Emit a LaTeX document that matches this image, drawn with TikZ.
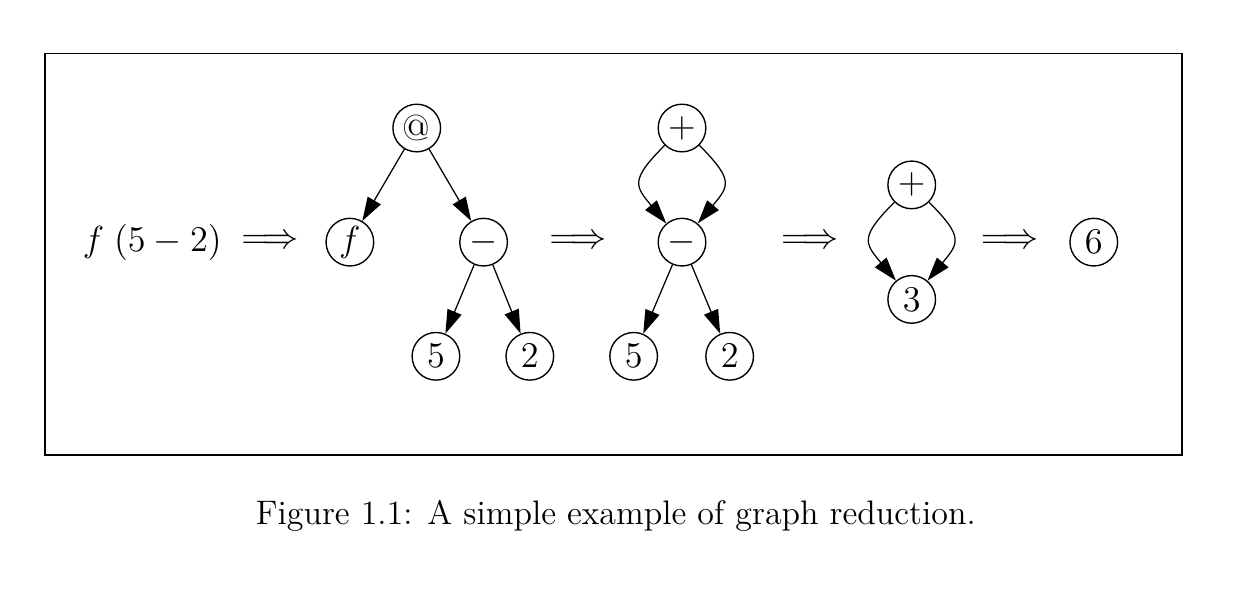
\documentclass[tikz,border=0pt]{standalone}
\usepackage{fix-cm}
\usepackage{amsmath}
\usetikzlibrary{arrows.meta}

\begin{document}
\begin{tikzpicture}[
        vertex/.style={draw, circle, line width=0.55pt, minimum size=0.67cm, inner sep=0pt, font=\fontsize{14.5}{17}\selectfont},
        edge/.style={line width=0.5pt, -{Triangle[length=9.5pt, width=6pt]}},
        rewrite/.style={font=\fontsize{14.5}{17}\selectfont}
    ]
        \useasboundingbox (0, 0) rectangle (17.38, 8.27);

        \draw[line width=0.6pt] (0.633, 1.87) rectangle (16.62, 7.52);

        \node[rewrite] (expr) at (2.14, 4.865) { $f\;(5-2)$ };
        \node[rewrite] (red1) at (3.80, 4.865) { $\Longrightarrow$ };
        \node[rewrite] (red2) at (8.13, 4.865) { $\Longrightarrow$ };
        \node[rewrite] (red3) at (11.39, 4.865) { $\Longrightarrow$ };
        \node[rewrite] (red4) at (14.20, 4.865) { $\Longrightarrow$ };

        % first graph
        \node[vertex] (app1) at (5.86, 6.47) { @ };
        \node[vertex] (fun1) at (4.92, 4.865) { $f$ };
        \node[vertex] (minus1) at (6.80, 4.865) { $-$ };
        \node[vertex] (five1) at (6.13, 3.26) { $5$ };
        \node[vertex] (two1) at (7.45, 3.26) { $2$ };

        \draw[edge] (app1) -- (fun1);
        \draw[edge] (app1) -- (minus1);
        \draw[edge] (minus1) -- (five1);
        \draw[edge] (minus1) -- (two1);

        % second graph
        \node[vertex] (plus2) at (9.59, 6.47) { $+$ };
        \node[vertex] (minus2) at (9.59, 4.865) { $-$ };
        \node[vertex] (five2) at (8.91, 3.26) { $5$ };
        \node[vertex] (two2) at (10.26, 3.26) { $2$ };

        \draw[edge] (plus2) to[out=-135, in=130, looseness=1.6] (minus2);
        \draw[edge] (plus2) to[out=-45, in=50, looseness=1.6] (minus2);
        \draw[edge] (minus2) -- (five2);
        \draw[edge] (minus2) -- (two2);

        % third graph
        \node[vertex] (plus3) at (12.82, 5.67) { $+$ };
        \node[vertex] (three3) at (12.82, 4.06) { $3$ };

        \draw[edge] (plus3) to[out=-135, in=130, looseness=1.6] (three3);
        \draw[edge] (plus3) to[out=-45, in=50, looseness=1.6] (three3);

        % result
        \node[vertex] (six4) at (15.38, 4.865) { $6$ };

        \node[font=\fontsize{13.6}{16}\selectfont] (caption) at (8.66, 1.01) { Figure 1.1: A simple example of graph reduction. };
    \end{tikzpicture}
\end{document}
